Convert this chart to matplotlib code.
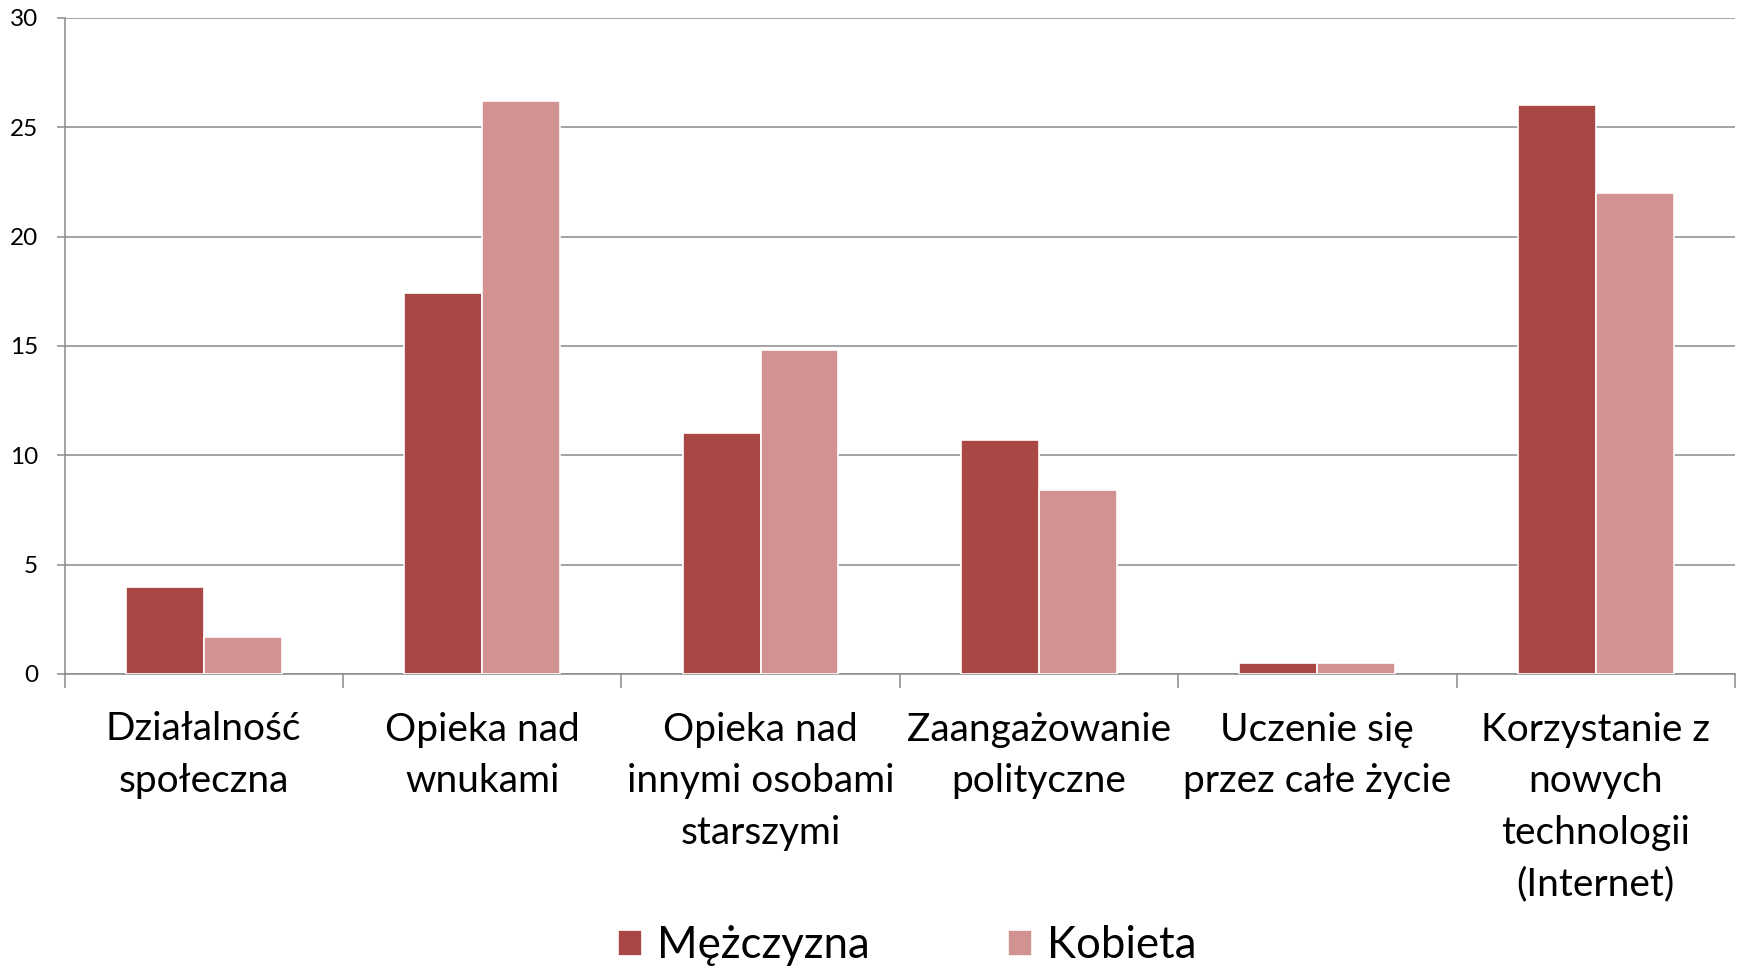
import matplotlib
matplotlib.use("Agg")
import matplotlib.pyplot as plt
import numpy as np

categories = ["Działalność\nspołeczna", "Opieka nad\nwnukami", "Opieka nad\ninnymi osobami\nstarszymi",
              "Zaangażowanie\npolityczne", "Uczenie się\nprzez całe życie",
              "Korzystanie z\nnowych\ntechnologii\n(Internet)"]
series_names = ["Mężczyzna", "Kobieta"]
men = [4.0, 17.4, 11.0, 10.7, 0.5, 26.0]
women = [1.7, 26.2, 14.8, 8.4, 0.5, 22.0]
yticks = [0, 5, 10, 15, 20, 25, 30]

plt.rcParams['font.family'] = ['Lato', 'DejaVu Sans']

W, H = 1741, 966
fig = plt.figure(figsize=(W/100, H/100), dpi=100)
ax = fig.add_axes([64.5/W, 1-674/H, (1735-64.5)/W, (674-17.8)/H])

x = np.arange(len(categories))
bw = 0.28
c_men = "#A94745"
c_women = "#D29292"
b1 = ax.bar(x - bw/2, men, bw, color=c_men, edgecolor="white", linewidth=1.2, label=series_names[0], zorder=3)
b2 = ax.bar(x + bw/2, women, bw, color=c_women, edgecolor="white", linewidth=1.2, label=series_names[1], zorder=3)

ax.set_xlim(-0.5, len(categories) - 0.5)
ax.set_ylim(0, 30)
ax.set_yticks(yticks)
ax.set_yticklabels([str(v) for v in yticks], fontsize=17.5)
gc = "#8a8a8a"
ax.yaxis.grid(True, color=gc, linewidth=1.1, zorder=0)
ax.set_axisbelow(True)
for s in ["top", "right"]:
    ax.spines[s].set_visible(False)
for s in ["left", "bottom"]:
    ax.spines[s].set_color(gc)
    ax.spines[s].set_linewidth(1.1)
ax.tick_params(axis="y", length=6, width=1.1, color=gc, pad=13, labelcolor="black")

ax.set_xticks(x)
ax.set_xticklabels(categories, fontsize=28, linespacing=1.54)
ax.tick_params(axis="x", which="major", length=0, pad=27)
ax.set_xticks(np.arange(len(categories) + 1) - 0.5, minor=True)
ax.tick_params(axis="x", which="minor", length=10, width=1.1, color=gc)

leg = fig.legend(handles=[b1, b2], loc="center", bbox_to_anchor=(0.521, 1-946/H), ncol=2,
                 frameon=False, fontsize=31.5, handlelength=0.55, handleheight=0.55,
                 handletextpad=0.35, columnspacing=3.15, borderaxespad=0)

fig.savefig("out.png", dpi=100, facecolor="white")
